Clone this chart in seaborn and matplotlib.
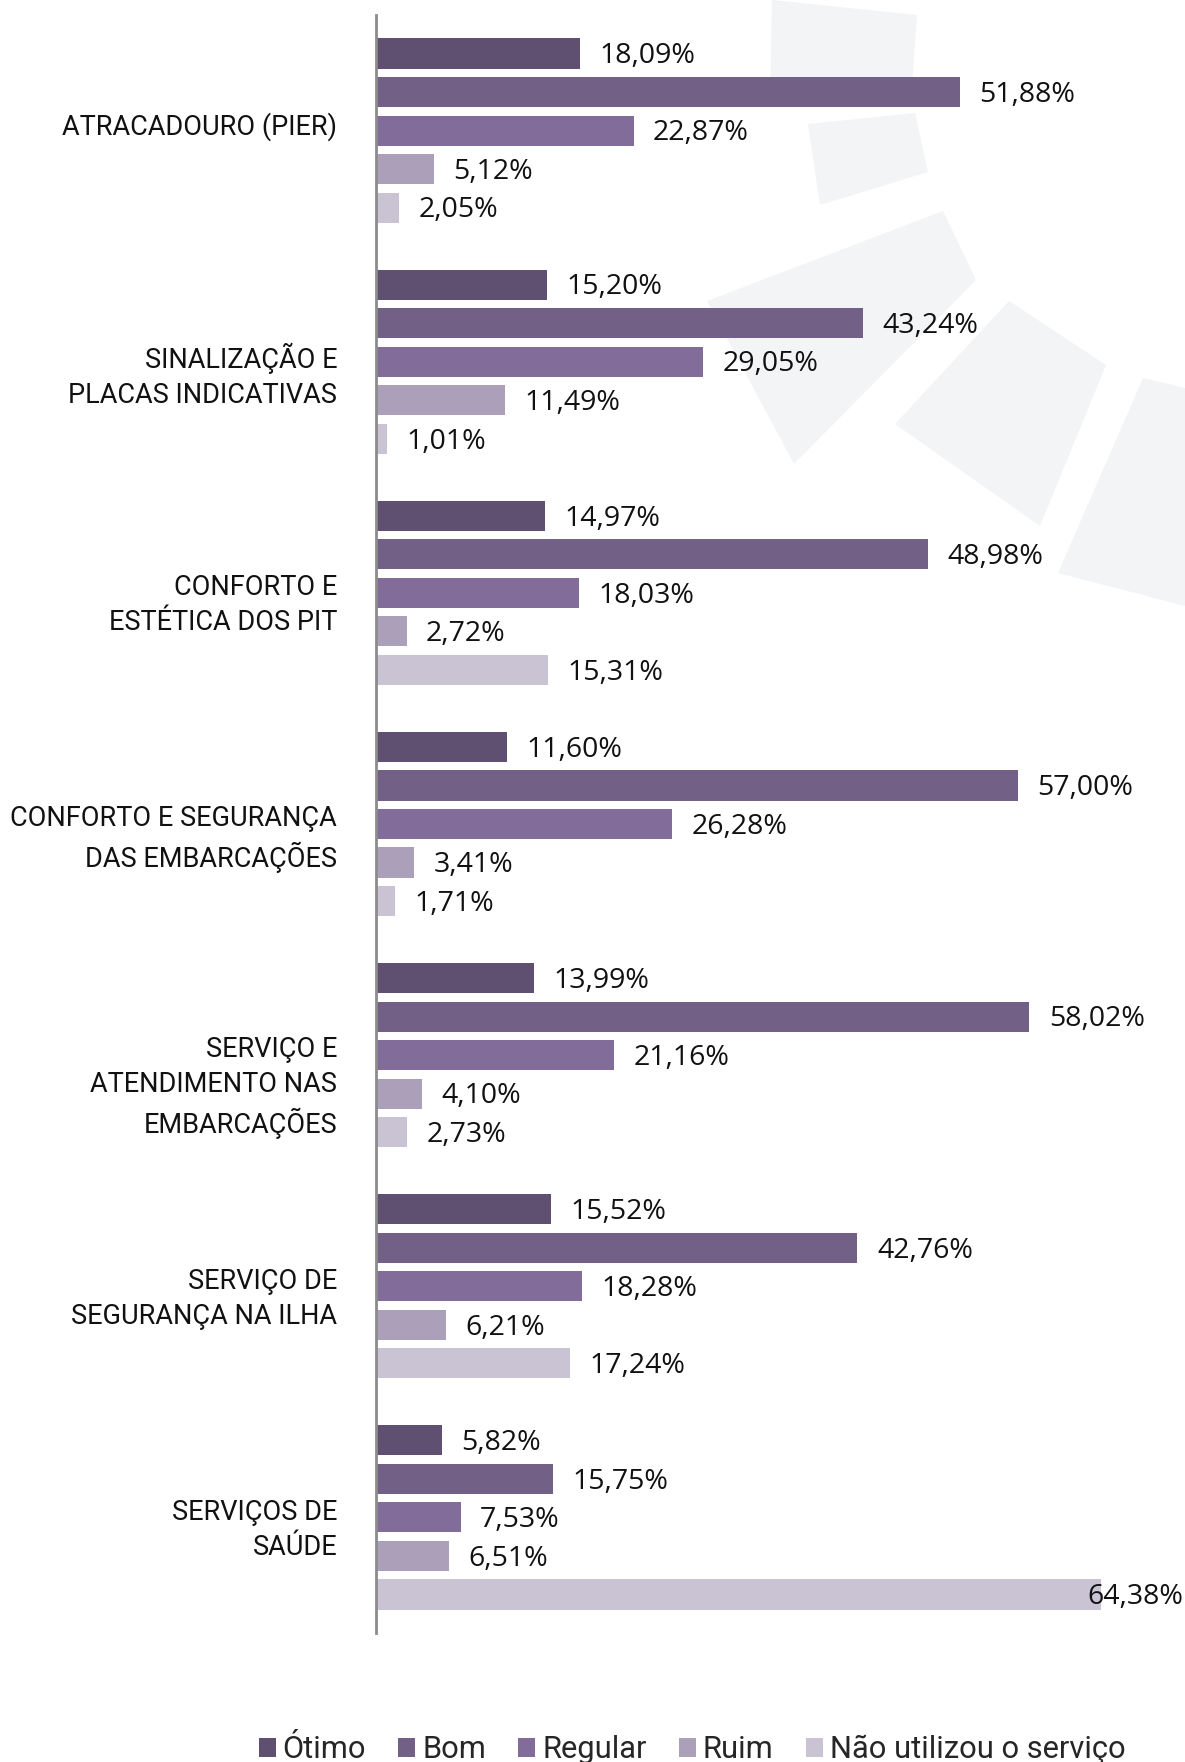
import pandas as pd
import matplotlib.pyplot as plt
import seaborn as sns
from matplotlib.patches import Polygon

# Chart data
categories = [
    "ATRACADOURO (PIER)",
    "SINALIZAÇÃO E\nPLACAS INDICATIVAS",
    "CONFORTO E\nESTÉTICA DOS PIT",
    "CONFORTO E SEGURANÇA\nDAS EMBARCAÇÕES",
    "SERVIÇO E\nATENDIMENTO NAS\nEMBARCAÇÕES",
    "SERVIÇO DE\nSEGURANÇA NA ILHA",
    "SERVIÇOS DE\nSAÚDE",
]
ratings = ["Ótimo", "Bom", "Regular", "Ruim", "Não utilizou o serviço"]
otimo = [18.09, 15.20, 14.97, 11.60, 13.99, 15.52, 5.82]
bom = [51.88, 43.24, 48.98, 57.00, 58.02, 42.76, 15.75]
regular = [22.87, 29.05, 18.03, 26.28, 21.16, 18.28, 7.53]
ruim = [5.12, 11.49, 2.72, 3.41, 4.10, 6.21, 6.51]
nao_utilizou = [2.05, 1.01, 15.31, 1.71, 2.73, 17.24, 64.38]
colors = ["#5f4a78", "#72598e", "#8064a2", "#aa9bbd", "#c8c0d7"]


def build_frame():
    rows = []
    for rating, vals in zip(ratings, [otimo, bom, regular, ruim, nao_utilizou]):
        for cat, v in zip(categories, vals):
            rows.append({"categoria": cat, "avaliacao": rating, "valor": v})
    return pd.DataFrame(rows)


df = build_frame()

sns.set_style("white")
plt.rcParams["font.family"] = ["Roboto", "DejaVu Sans"]

W, H = 1185, 1762
fig = plt.figure(figsize=(W / 100, H / 100), dpi=100)
ax = fig.add_axes([376 / W, 1 - 1633 / H, 1 - 376 / W, (1633 - 15) / H])
ax.set_facecolor("none")

# light watermark shapes in the background (pixel coords of the canvas)
shapes = [
    [(772, 0), (917, 15), (911, 100), (770, 100)],
    [(808, 124), (915, 113), (928, 172), (820, 205)],
    [(707, 301), (943, 211), (976, 280), (794, 464)],
    [(1009, 301), (1106, 365), (1040, 526), (895, 424)],
    [(1143, 378), (1185, 388), (1185, 606), (1058, 573)],
]
for pts in shapes:
    poly = Polygon([(x / W, 1 - y / H) for x, y in pts], closed=True,
                   facecolor="#f3f4f6", edgecolor="none",
                   transform=fig.transFigure, zorder=-5)
    fig.add_artist(poly)

sns.barplot(data=df, y="categoria", x="valor", hue="avaliacao",
            order=categories, hue_order=ratings, palette=colors,
            orient="h", width=5 / 6, gap=0.22, linewidth=0, ax=ax)

xmax = (W - 376) / 11.26
ax.set_xlim(0, xmax)
ax.set_ylim(6.5, -0.5)

# value labels
for container in ax.containers:
    for bar in container:
        v = bar.get_width()
        y = bar.get_y() + bar.get_height() / 2
        txt = f"{v:.2f}%".replace(".", ",")
        if v > 62:
            ax.annotate(txt, (xmax, y), xytext=(-1, -2), textcoords="offset points",
                        ha="right", va="center", fontsize=20.5, color="#111111",
                        family=["Open Sans", "DejaVu Sans"])
        else:
            ax.annotate(txt, (v, y), xytext=(14, -2), textcoords="offset points",
                        ha="left", va="center", fontsize=20.5, color="#111111",
                        family=["Open Sans", "DejaVu Sans"])

# category labels, anchored at the top like the original
ax.set_xlabel("")
ax.set_ylabel("")
ax.set_xticks([])
ax.set_yticks([])
for i, cat in enumerate(categories):
    ax.annotate(cat, (0, i), xytext=(-28, 13.5), textcoords="offset points",
                ha="right", va="top", multialignment="right", linespacing=1.38,
                fontsize=19.5, color="#111111", annotation_clip=False)

for side in ["top", "right", "bottom"]:
    ax.spines[side].set_visible(False)
ax.spines["left"].set_color("#8c8c8c")
ax.spines["left"].set_linewidth(2)

handles, labels = ax.get_legend_handles_labels()
ax.get_legend().remove()
fig.legend(handles, labels, loc="center", bbox_to_anchor=(0.584, 0.007),
           ncol=5, frameon=False, fontsize=22.2, handlelength=0.55,
           handleheight=0.55, handletextpad=0.22, columnspacing=1.05)

plt.savefig("out.png", dpi=100)
